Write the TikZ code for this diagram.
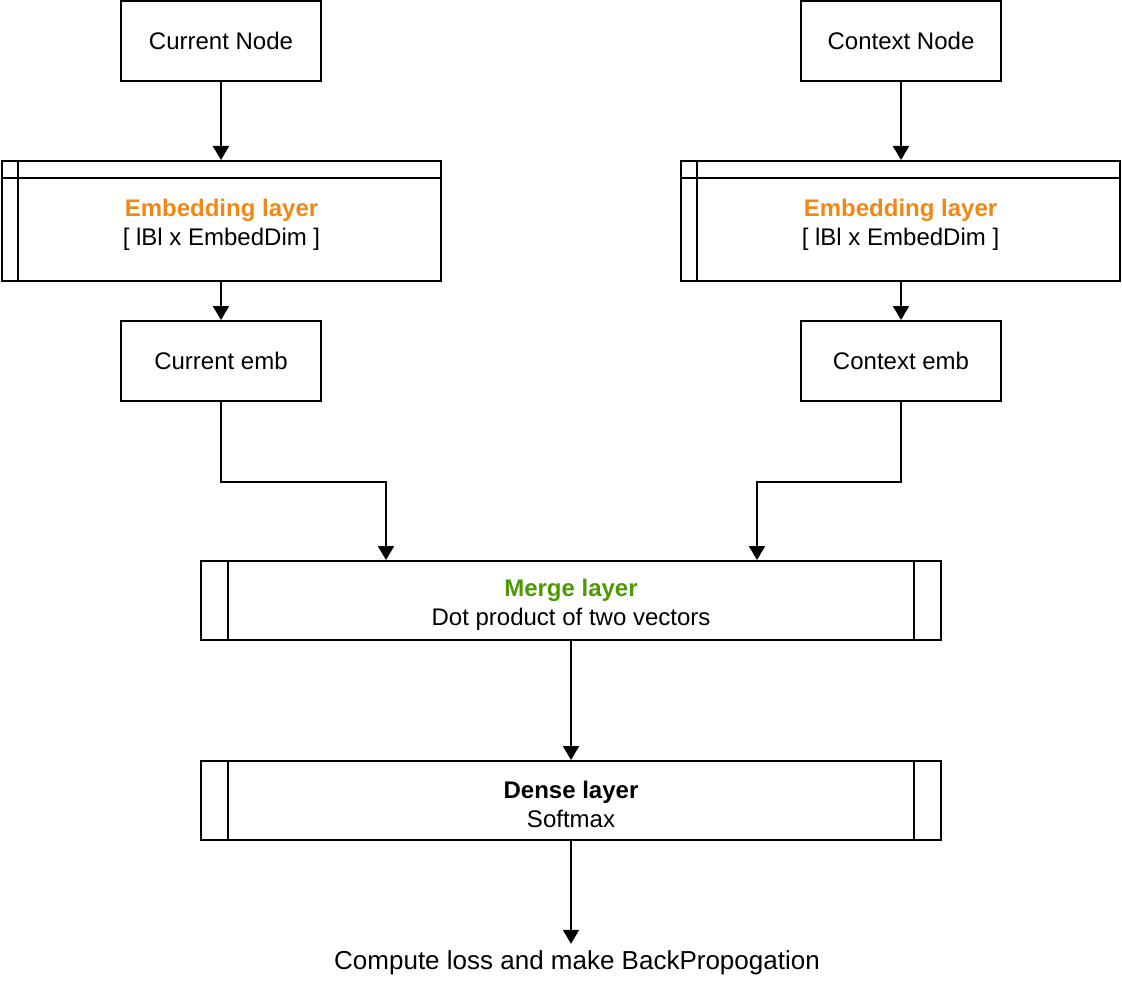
\documentclass[tikz,border=0pt]{standalone}
\usepackage{fontspec}
\setmainfont{Liberation Sans}
\usetikzlibrary{arrows.meta,positioning}
\definecolor{embcol}{RGB}{242,135,20}
\definecolor{mergecol}{RGB}{77,153,0}
\tikzset{
  plainbox/.style={draw, line width=1pt, minimum width=100pt, minimum height=40pt, inner sep=0pt},
  layerbox/.style={draw, line width=1pt, inner sep=0pt},
  layertext/.style={align=center, inner sep=0pt},
  strip/.style={line width=1pt},
  arr/.style={line width=1pt, -{Triangle[length=7pt,width=8pt]}}
}
\begin{document}
\begin{tikzpicture}[x=0.5pt, y=-0.5pt, font=\fontsize{12}{14.5}\selectfont]
    \useasboundingbox (0,0) rectangle (1122,984);

    % Input nodes and their embeddings
    \node[plainbox] (curnode) at (221,41) {Current Node};
    \node[plainbox] (ctxnode) at (901,41) {Context Node};
    \node[plainbox] (curemb) at (221,361) {Current emb};
    \node[plainbox] (ctxemb) at (901,361) {Context emb};

    % Embedding layers
    \foreach \name/\x in {curlayer/221.5, ctxlayer/900.5} {
        \node[layerbox, minimum width=219.5pt, minimum height=60pt] (\name) at (\x,221) {};
        \node[layertext] at ([yshift=-2pt]\name.center)
            {\textbf{\color{embcol}Embedding layer}\\{[} lBl x EmbedDim ]};
        \draw[strip] ([xshift=8.5pt]\name.north west) -- ([xshift=8.5pt]\name.south west);
        \draw[strip] ([yshift=-9pt]\name.north west) -- ([yshift=-9pt]\name.north east);
    }

    % Merge and dense layers
    \node[layerbox, minimum width=370pt, minimum height=39.5pt] (merge) at (571,600.5) {};
    \node[layertext] at ([yshift=-2pt]merge.center)
        {\textbf{\color{mergecol}Merge layer}\\Dot product of two vectors};
    \node[layerbox, minimum width=370pt, minimum height=39.5pt] (dense) at (571,800.5) {};
    \node[layertext] at ([yshift=-2pt]dense.center) {\textbf{Dense layer}\\Softmax};
    \foreach \name in {merge, dense} {
        \draw[strip] ([xshift=14pt]\name.north west) -- ([xshift=14pt]\name.south west);
        \draw[strip] ([xshift=-14pt]\name.north east) -- ([xshift=-14pt]\name.south east);
    }

    \node[font=\fontsize{13}{15.6}\selectfont] (loss) at (577,963) {Compute loss and make BackPropogation};

    % Connectors
    \coordinate (mergeinl) at ([xshift=-92.5pt]merge.north);
    \coordinate (mergeinr) at ([xshift=93pt]merge.north);
    \draw[arr] (curnode) -- (curnode |- curlayer.north);
    \draw[arr] (ctxnode) -- (ctxnode |- ctxlayer.north);
    \draw[arr] (curemb |- curlayer.south) -- (curemb);
    \draw[arr] (ctxemb |- ctxlayer.south) -- (ctxemb);
    \draw[arr] (curemb.south) -- ++(0,80) -| (mergeinl);
    \draw[arr] (ctxemb.south) -- ++(0,80) -| (mergeinr);
    \draw[arr] (merge) -- (dense);
    \draw[arr] (dense) -- (dense |- loss.north);
\end{tikzpicture}
\end{document}
